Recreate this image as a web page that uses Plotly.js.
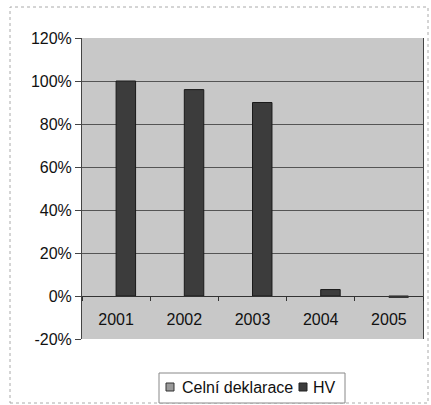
<!DOCTYPE html>
<html>
<head>
<meta charset="utf-8">
<script src="https://cdn.plot.ly/plotly-3.0.1.min.js"></script>
<style>
html,body{margin:0;padding:0;background:#fff;}
#chart{width:431px;height:405px;}
</style>
</head>
<body>
<div id="chart"></div>
<script>
const years = ['2001', '2002', '2003', '2004', '2005'];
const celniDeklarace = [0, 0, 0, 0, 0];
const hv = [1.00, 0.96, 0.90, 0.03, -0.006];
const yTickVals = [-0.2, 0, 0.2, 0.4, 0.6, 0.8, 1.0, 1.2];
const yTickText = ['-20%', '0%', '20%', '40%', '60%', '80%', '100%', '120%'];
const seriesNames = ['Celní deklarace', 'HV'];
const seriesColors = ['#9a9a9a', '#3c3c3c'];

const font = {family: 'Liberation Sans, Arial, sans-serif', size: 16, color: '#111'};

// plot area in pixels: left 82, right 423, top 38, bottom 339
const PL = 82, PR = 423, PT = 38, PB = 339;
const px = v => (v - PL) / (PR - PL);
const py = v => (PB - v) / (PB - PT);

const traces = [
  {type: 'bar', name: seriesNames[0], x: years, y: celniDeklarace, showlegend: false,
   marker: {color: seriesColors[0], line: {width: 0}}},
  {type: 'bar', name: seriesNames[1], x: years, y: hv, showlegend: false,
   marker: {color: seriesColors[1], line: {color: '#1a1a1a', width: 1}}}
];

const layout = {
  width: 431, height: 405,
  margin: {l: PL, r: 431 - PR, t: PT, b: 405 - PB, autoexpand: false},
  paper_bgcolor: '#ffffff',
  plot_bgcolor: '#c8c8c8',
  font: font,
  barmode: 'group',
  bargap: 0.4286,
  bargroupgap: 0,
  showlegend: false,
  xaxis: {type: 'category', anchor: 'free', position: 1/7, automargin: false,
          showline: true, linecolor: '#333', linewidth: 1,
          ticks: 'outside', tickson: 'boundaries', ticklen: 4, tickcolor: '#333',
          ticklabelstandoff: 9,
          showgrid: false, zeroline: false, tickfont: font, fixedrange: true},
  yaxis: {range: [-0.2, 1.2], tickvals: yTickVals, ticktext: yTickText, automargin: false,
          showgrid: true, gridcolor: '#555', gridwidth: 1,
          zeroline: false, showline: true, linecolor: '#444', linewidth: 1,
          mirror: true, ticks: 'outside', ticklen: 6, tickcolor: '#444',
          tickfont: font, fixedrange: true},
  shapes: [
    {type: 'rect', xref: 'paper', yref: 'paper', x0: px(10), x1: px(428), y0: py(403), y1: py(7),
     line: {color: '#aaa', width: 1, dash: 'dot'}},
    // legend box
    {type: 'rect', xref: 'paper', yref: 'paper', x0: px(159), x1: px(345), y0: py(403), y1: py(373),
     fillcolor: '#ffffff', line: {color: '#888', width: 1}},
    {type: 'rect', xref: 'paper', yref: 'paper', x0: px(166), x1: px(174), y0: py(391), y1: py(383),
     fillcolor: seriesColors[0], line: {color: '#333', width: 1}},
    {type: 'rect', xref: 'paper', yref: 'paper', x0: px(299), x1: px(307), y0: py(391), y1: py(383),
     fillcolor: seriesColors[1], line: {color: '#222', width: 1}}
  ],
  annotations: [
    {xref: 'paper', yref: 'paper', x: px(180), y: py(387.5), xanchor: 'left', yanchor: 'middle',
     text: seriesNames[0], showarrow: false, font: font},
    {xref: 'paper', yref: 'paper', x: px(311), y: py(387.5), xanchor: 'left', yanchor: 'middle',
     text: seriesNames[1], showarrow: false, font: font}
  ]
};

Plotly.newPlot('chart', traces, layout, {displayModeBar: false, staticPlot: true});
</script>
</body>
</html>
